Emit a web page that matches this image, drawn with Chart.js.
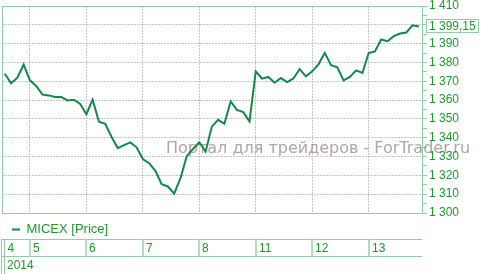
<!DOCTYPE html>
<html>
<head>
<meta charset="utf-8">
<script src="https://cdn.jsdelivr.net/npm/chart.js@4.4.1/dist/chart.umd.min.js"></script>
<style>
html,body{margin:0;padding:0;background:#fff;}
#wrap{width:481px;height:274px;position:relative;}
</style>
</head>
<body>
<div id="wrap"><canvas id="chart"></canvas></div>
<script>
// hourly MICEX closes, 4..13 Feb 2014
const prices = [
    1374.0, 1368.9, 1371.9, 1378.9, 1370.5, 1367.5, 1362.9, 1362.5, 1361.6, 1361.6,
    1359.8, 1360.2, 1358.0, 1352.5, 1360.2, 1348.5, 1347.4, 1340.5, 1334.5, 1336.1,
    1337.5, 1334.9, 1328.7, 1326.5, 1322.4, 1315.3, 1314.1, 1310.3, 1318.5, 1330.2,
    1334.0, 1337.6, 1332.6, 1345.9, 1349.5, 1347.4, 1359.3, 1354.8, 1353.6, 1348.6,
    1375.3, 1371.4, 1372.3, 1369.2, 1371.7, 1369.6, 1371.5, 1376.5, 1372.6, 1375.3,
    1379.0, 1385.1, 1378.5, 1377.4, 1370.5, 1372.3, 1375.8, 1374.4, 1385.0, 1385.9,
    1392.2, 1391.3, 1394.0, 1395.4, 1395.9, 1399.7, 1399.15
];
const dayLabels = ["4", "5", "6", "7", "8", "11", "12", "13"];
const dayStart = [0, 4, 13, 22, 31, 40, 49, 58];   // index of first bar of each day
const yearLabel = "2014";
const seriesName = "MICEX [Price]";
const yMin = 1300, yMax = 1410, yStep = 10;
const watermark = "Портал для трейдеров - ForTrader.ru";

const lineGreen = "#12894a";
const textGreen = "#1f982c";
const frameGreen = "#92cdaa";
const font = "'Liberation Sans', Arial, sans-serif";

function fmt(v) {
    const parts = String(v).split(".");
    return parts[0].replace(/\B(?=(\d{3})+(?!\d))/g, " ") + (parts[1] ? "," + parts[1] : "");
}

const decor = {
    id: "decor",
    beforeDatasetsDraw(chart) {
        const {ctx, chartArea: a} = chart;
        ctx.save();
        ctx.font = "16px 'DejaVu Sans', sans-serif";
        ctx.fillStyle = "rgba(125,105,105,0.6)";
        ctx.textBaseline = "alphabetic";
        ctx.fillText(watermark, 166, 153);
        ctx.strokeStyle = frameGreen;
        ctx.lineWidth = 1;
        ctx.beginPath();
        ctx.moveTo(a.left + 0.5, a.bottom);
        ctx.lineTo(a.left + 0.5, a.top + 0.5);
        ctx.lineTo(a.right, a.top + 0.5);
        ctx.stroke();
        ctx.restore();
    },
    afterDraw(chart) {
        const {ctx, chartArea: a} = chart;
        const xs = chart.scales.x, ys = chart.scales.y;
        ctx.save();
        // date table under the legend
        const t1 = 239.5, t2 = 256.5, t3 = 274;
        ctx.strokeStyle = frameGreen;
        ctx.lineWidth = 1;
        ctx.beginPath();
        ctx.moveTo(1, t1); ctx.lineTo(a.right, t1);
        ctx.moveTo(1, t2); ctx.lineTo(a.right, t2);
        ctx.moveTo(1.5, t1); ctx.lineTo(1.5, t3);
        ctx.moveTo(4.5, t1); ctx.lineTo(4.5, t3);
        ctx.stroke();
        ctx.strokeStyle = "#b3dcc4";
        ctx.lineWidth = 2;
        ctx.beginPath();
        for (let i = 1; i < dayStart.length; i++) {
            const px = Math.round(xs.getPixelForValue(dayStart[i]));
            ctx.moveTo(px, t1); ctx.lineTo(px, t2);
        }
        ctx.stroke();
        ctx.fillStyle = textGreen;
        ctx.font = "12px " + font;
        ctx.textBaseline = "middle";
        ctx.textAlign = "left";
        dayLabels.forEach((d, i) => {
            const px = i === 0 ? 4.5 : Math.round(xs.getPixelForValue(dayStart[i]));
            ctx.fillText(d, px + 3, 248.5);
        });
        ctx.fillText(yearLabel, 7, 265.5);

        // last value tag
        const last = prices[prices.length - 1];
        const py = Math.round(ys.getPixelForValue(last));
        ctx.fillStyle = "#fff";
        ctx.fillRect(426, py - 7, 53, 14);
        ctx.strokeStyle = frameGreen;
        ctx.lineWidth = 1;
        ctx.strokeRect(426.5, py - 6.5, 52, 13);
        ctx.fillStyle = textGreen;
        ctx.font = "12px " + font;
        ctx.fillText(fmt(last), 429, py + 0.5);
        ctx.restore();
    }
};

new Chart(document.getElementById("chart"), {
    type: "line",
    data: {
        datasets: [{
            label: seriesName,
            data: prices.map((v, i) => ({x: i, y: v})),
            borderColor: lineGreen,
            backgroundColor: lineGreen,
            borderWidth: 2,
            pointRadius: 0,
            tension: 0,
            fill: false
        }]
    },
    options: {
        responsive: true,
        maintainAspectRatio: false,
        animation: false,
        devicePixelRatio: 1,
        layout: {padding: {top: 6, left: 2, right: 0, bottom: 28}},
        plugins: {
            tooltip: {enabled: false},
            legend: {
                position: "bottom",
                align: "start",
                labels: {
                    boxWidth: 8,
                    boxHeight: 2,
                    padding: 10,
                    color: textGreen,
                    font: {size: 13, family: font},
                    generateLabels: () => [{
                        text: seriesName,
                        fillStyle: lineGreen,
                        strokeStyle: lineGreen,
                        lineWidth: 0,
                        fontColor: textGreen,
                        datasetIndex: 0
                    }]
                }
            }
        },
        scales: {
            x: {
                type: "linear",
                min: -0.45,
                max: 66.5,
                afterBuildTicks: s => { s.ticks = dayStart.slice(1).map(v => ({value: v})); },
                ticks: {display: false},
                grid: {color: "#c4c4c4", drawTicks: false},
                border: {color: frameGreen, dash: [2, 1]}
            },
            y: {
                position: "right",
                min: yMin,
                max: yMax,
                afterFit: s => { s.width = 59; s.paddingTop = 0; s.paddingBottom = 0; },
                ticks: {
                    stepSize: yStep / 2,
                    autoSkip: false,
                    maxTicksLimit: 40,
                    padding: 2,
                    color: textGreen,
                    font: {size: 12, family: font},
                    callback: v => (v % yStep === 0 ? fmt(v) : "")
                },
                grid: {
                    tickLength: 5,
                    tickColor: frameGreen,
                    color: c => (c.tick && c.tick.value % yStep === 0 ? "#c4c4c4" : "rgba(0,0,0,0)")
                },
                border: {color: frameGreen, dash: [2, 1]}
            }
        }
    },
    plugins: [decor]
});
</script>
</body>
</html>
